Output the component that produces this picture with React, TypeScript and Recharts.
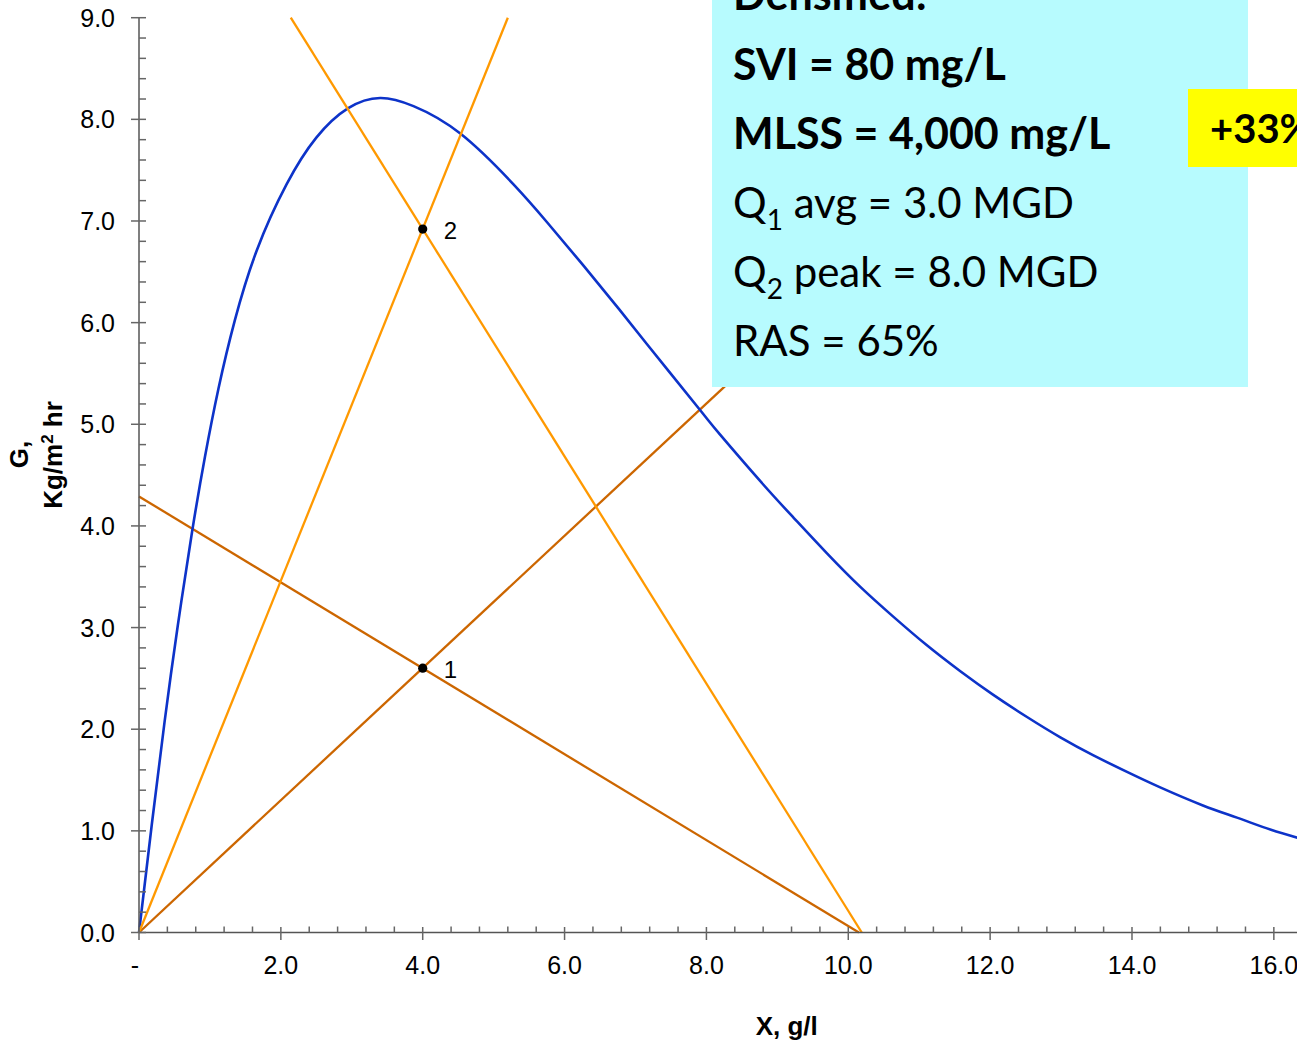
import React from 'react';
import { ComposedChart, Line, Scatter, XAxis, YAxis } from 'recharts';

// Settling flux curve: X (g/l) and G (kg/m2 hr)
const FLUX_X = [0, 0.18, 0.36, 0.545, 0.75, 0.93, 1.12, 1.35, 1.66, 2.08, 2.5, 2.95, 3.4, 3.87, 4.53, 5.28, 5.75, 6.22, 6.69, 7.16, 7.91, 8.19, 8.76, 9.23, 9.7, 10.17, 10.63, 11.1, 11.58, 12.04, 12.52, 12.99, 13.45, 13.93, 14.39, 15.0, 15.48, 15.96, 16.4];
const FLUX_G = [0, 1.06, 2.07, 3.01, 3.95, 4.68, 5.35, 6.02, 6.71, 7.36, 7.82, 8.11, 8.21, 8.13, 7.86, 7.36, 6.99, 6.6, 6.2, 5.79, 5.14, 4.9, 4.44, 4.08, 3.73, 3.4, 3.11, 2.83, 2.57, 2.34, 2.12, 1.92, 1.745, 1.58, 1.43, 1.25, 1.13, 1.01, 0.92];

// State point lines
const Q1_OVERFLOW_X = [0, 9.5];
const Q1_OVERFLOW_G = [0, 6.18];
const Q1_UNDERFLOW_X = [0, 10.15];
const Q1_UNDERFLOW_G = [4.29, 0];
const Q2_OVERFLOW_X = [0, 5.2];
const Q2_OVERFLOW_G = [0, 9];
const Q2_UNDERFLOW_X = [2.14, 10.19];
const Q2_UNDERFLOW_G = [9, 0];

// Operating points
const POINT_X = [4.0, 4.0];
const POINT_G = [2.6, 6.92];
const POINT_LABELS = ['1', '2'];

// Axis ticks
const X_MAJOR_TICKS = [0, 2, 4, 6, 8, 10, 12, 14, 16, 18];
const Y_MAJOR_TICKS = [0, 1, 2, 3, 4, 5, 6, 7, 8, 9];
const X_MINOR_DIVISIONS = 5;
const Y_MINOR_DIVISIONS = 5;

// Annotation text
const BOX_LINES_BOLD = ['Densified:', 'SVI = 80 mg/L', 'MLSS = 4,000 mg/L'];
const Q1_TEXT = ['Q', '1', ' avg = 3.0 MGD'];
const Q2_TEXT = ['Q', '2', ' peak = 8.0 MGD'];
const RAS_TEXT = 'RAS = 65%';
const CHANGE_TEXT = '+33%';

const BLUE = '#0d33c9';
const ORANGE = '#ff9900';
const BROWN = '#cc6600';
const AXIS = '#555555';
const TICK = '#666666';
const TICK_FONT = '"Liberation Sans", Arial, sans-serif';
const BOX_FONT = 'Lato, "Open Sans", sans-serif';

const toPoints = (xs: number[], ys: number[]) => xs.map((x, i) => ({ x, y: ys[i] }));

const subdivide = (majors: number[], n: number) => {
  const out: number[] = [];
  for (let i = 0; i < majors.length; i++) {
    out.push(majors[i]);
    if (i < majors.length - 1) {
      const step = (majors[i + 1] - majors[i]) / n;
      for (let k = 1; k < n; k++) out.push(majors[i] + step * k);
    }
  }
  return out;
};

const X_TICKS = subdivide(X_MAJOR_TICKS, X_MINOR_DIVISIONS);
const Y_TICKS = subdivide(Y_MAJOR_TICKS, Y_MINOR_DIVISIONS);

const isMajor = (v: number, majors: number[]) => majors.some((m) => Math.abs(m - v) < 1e-6);

const fluxData = toPoints(FLUX_X, FLUX_G);
const q1Over = toPoints(Q1_OVERFLOW_X, Q1_OVERFLOW_G);
const q1Under = toPoints(Q1_UNDERFLOW_X, Q1_UNDERFLOW_G);
const q2Over = toPoints(Q2_OVERFLOW_X, Q2_OVERFLOW_G);
const q2Under = toPoints(Q2_UNDERFLOW_X, Q2_UNDERFLOW_G);
const pointData = POINT_X.map((x, i) => ({ x, y: POINT_G[i], label: POINT_LABELS[i] }));

const renderXTick = (props: any) => {
  const { x, y, payload } = props;
  const v = payload.value;
  if (isMajor(v, X_MAJOR_TICKS)) {
    const label = Math.abs(v) < 1e-6 ? '-' : v.toFixed(1);
    return (
      <g>
        <line x1={x} x2={x} y1={y - 5.5} y2={y + 7.5} stroke={TICK} strokeWidth={1.5} />
        <text x={Math.abs(v) < 1e-6 ? x - 4 : x} y={y + 41.5} textAnchor="middle" fontFamily={TICK_FONT} fontSize={25} fill="#000">
          {label}
        </text>
      </g>
    );
  }
  return <line x1={x} x2={x} y1={y - 6} y2={y} stroke={TICK} strokeWidth={1.5} />;
};

const renderYTick = (props: any) => {
  const { x, y, payload } = props;
  const v = payload.value;
  if (isMajor(v, Y_MAJOR_TICKS)) {
    return (
      <g>
        <line x1={x - 8} x2={x + 7} y1={y} y2={y} stroke={TICK} strokeWidth={1.5} />
        <text x={x - 24} y={y + 9} textAnchor="end" fontFamily={TICK_FONT} fontSize={25} fill="#000">
          {v.toFixed(1)}
        </text>
      </g>
    );
  }
  return <line x1={x} x2={x + 7} y1={y} y2={y} stroke={TICK} strokeWidth={1.5} />;
};

const renderPoint = (props: any) => {
  const { cx, cy, payload } = props;
  return (
    <g>
      <circle cx={cx} cy={cy} r={4.6} fill="#000" />
      <text x={cx + 21} y={cy + 10} fontFamily={TICK_FONT} fontSize={24} fill="#000">
        {payload.label}
      </text>
    </g>
  );
};

export default function App() {
  return (
    <div style={{ position: 'fixed', left: 0, top: 0, width: 1297, height: 1043, overflow: 'hidden', background: '#fff' }}>
      <div style={{ position: 'absolute', left: 0, top: 0 }}>
        <ComposedChart width={1430} height={1043} margin={{ top: 17.7, right: 14.3, bottom: 50.5, left: 0 }}>
          <XAxis
            type="number"
            dataKey="x"
            domain={[0, 18]}
            ticks={X_TICKS}
            interval={0}
            tickSize={0}
            tickMargin={0}
            tickLine={false}
            tick={renderXTick}
            axisLine={{ stroke: AXIS, strokeWidth: 1.5 }}
            height={60}
          />
          <YAxis
            type="number"
            dataKey="y"
            domain={[0, 9]}
            ticks={Y_TICKS}
            interval={0}
            tickSize={0}
            tickMargin={0}
            tickLine={false}
            tick={renderYTick}
            axisLine={{ stroke: AXIS, strokeWidth: 1.5 }}
            width={139}
          />
          <Line data={q1Over} dataKey="y" type="linear" stroke={BROWN} strokeWidth={2.3} dot={false} isAnimationActive={false} />
          <Line data={q1Under} dataKey="y" type="linear" stroke={BROWN} strokeWidth={2.3} dot={false} isAnimationActive={false} />
          <Line data={fluxData} dataKey="y" type="natural" stroke={BLUE} strokeWidth={2.6} dot={false} isAnimationActive={false} />
          <Line data={q2Over} dataKey="y" type="linear" stroke={ORANGE} strokeWidth={2.3} dot={false} isAnimationActive={false} />
          <Line data={q2Under} dataKey="y" type="linear" stroke={ORANGE} strokeWidth={2.3} dot={false} isAnimationActive={false} />
          <Scatter data={pointData} dataKey="y" shape={renderPoint} isAnimationActive={false} />
        </ComposedChart>
      </div>
      <svg width={1297} height={1043} style={{ position: 'absolute', left: 0, top: 0, pointerEvents: 'none' }}>
        <text x={28} y={454.5} transform="rotate(-90 28 454.5)" textAnchor="middle" fontFamily={TICK_FONT} fontWeight="bold" fontSize={26} fill="#000">
          G,
        </text>
        <text x={61.7} y={455} transform="rotate(-90 61.7 455)" textAnchor="middle" fontFamily={TICK_FONT} fontWeight="bold" fontSize={26} fill="#000">
          Kg/m<tspan fontSize={17} dy={-9}>2</tspan><tspan dy={9}> hr</tspan>
        </text>
        <text x={786.7} y={1035} textAnchor="middle" fontFamily={TICK_FONT} fontWeight="bold" fontSize={26} fill="#000">
          X, g/l
        </text>

        <rect x={712} y={-60} width={536} height={447} fill="#b7fbfe" />
        <text x={733} y={10} fontFamily={BOX_FONT} fontWeight="bold" fontSize={43} fill="#000">{BOX_LINES_BOLD[0]}</text>
        <text x={733} y={80} fontFamily={BOX_FONT} fontWeight="bold" fontSize={43} fill="#000">{BOX_LINES_BOLD[1]}</text>
        <text x={733} y={149} fontFamily={BOX_FONT} fontWeight="bold" fontSize={43} fill="#000">{BOX_LINES_BOLD[2]}</text>
        <text x={733} y={218} fontFamily={BOX_FONT} fontSize={42} fill="#000">
          {Q1_TEXT[0]}
          <tspan fontSize={28} dy={12}>{Q1_TEXT[1]}</tspan>
          <tspan dy={-12}>{Q1_TEXT[2]}</tspan>
        </text>
        <text x={733} y={287} fontFamily={BOX_FONT} fontSize={42} fill="#000">
          {Q2_TEXT[0]}
          <tspan fontSize={28} dy={12}>{Q2_TEXT[1]}</tspan>
          <tspan dy={-12}>{Q2_TEXT[2]}</tspan>
        </text>
        <text x={733} y={356} fontFamily={BOX_FONT} fontSize={42} fill="#000">{RAS_TEXT}</text>

        <rect x={1188} y={89} width={130} height={78} fill="#ffff00" />
        <text x={1210} y={143} fontFamily={BOX_FONT} fontWeight="bold" fontSize={40} fill="#000">{CHANGE_TEXT}</text>
      </svg>
    </div>
  );
}
